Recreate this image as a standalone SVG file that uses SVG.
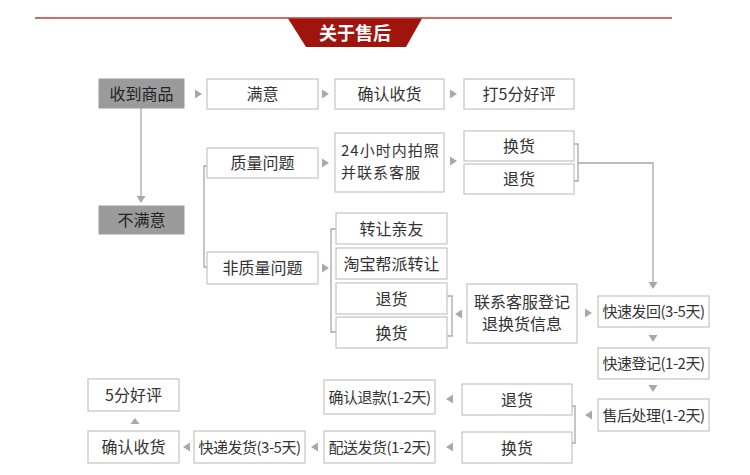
<svg xmlns="http://www.w3.org/2000/svg" width="750" height="475" viewBox="0 0 750 475">
<style>
.b{fill:#fff;stroke:#c4c4c4;stroke-width:1.2}
.g{fill:#9b9b9b;stroke:#9b9b9b;stroke-width:1}
.t{font-family:"Noto Sans CJK SC","Liberation Sans",sans-serif;font-size:16px;fill:#333;text-anchor:middle}
.s{font-size:15px;letter-spacing:-0.5px}
.m{font-size:15px}
.c{fill:none;stroke:#a8a8a8;stroke-width:1.3}
.a{fill:#a8a8a8}
</style>
<defs>
<path id="r" d="M0,-4.5 L7,0 L0,4.5 Z"/>
<path id="l" d="M0,-4.5 L-7,0 L0,4.5 Z"/>
<path id="d" d="M-4.5,0 L4.5,0 L0,7 Z"/>
<path id="u" d="M-4.5,0 L4.5,0 L0,-6 Z"/>
</defs>
<rect width="750" height="475" fill="#fff"/>
<g id="title">
<line x1="35" y1="18" x2="672" y2="18" stroke="#c23a33" stroke-width="1.5"/>
<polygon points="288,18.5 422,18.5 406,47 306,47" fill="#a0140e"/>
<text x="355" y="40" font-family="'Noto Sans CJK SC',sans-serif" font-size="18" font-weight="bold" fill="#fff" text-anchor="middle">关于售后</text>
</g>
<g id="connectors">
<path class="c" d="M141,108 V198"/>
<use href="#d" x="141" y="196" class="a"/>
<path class="c" d="M207,166 H204 V267 H207"/>
<path class="c" d="M336,229 H331 V332 H336"/>
<path class="c" d="M574,144 H578 V181 H574 M578,163 H653 V283"/>
<use href="#d" x="653" y="282" class="a"/>
<path class="c" d="M447,296 H452 V336 H447"/>
<path class="c" d="M572,406 H575 V443 H572"/>
<use href="#r" x="195" y="94" class="a"/>
<use href="#r" x="322" y="94" class="a"/>
<use href="#r" x="450" y="94" class="a"/>
<use href="#r" x="322" y="163" class="a"/>
<use href="#r" x="450" y="161" class="a"/>
<use href="#r" x="322" y="268" class="a"/>
<use href="#r" x="585" y="313" class="a"/>
<use href="#l" x="462" y="314" class="a"/>
<use href="#l" x="592" y="415" class="a"/>
<use href="#l" x="453" y="399" class="a"/>
<use href="#l" x="453" y="447" class="a"/>
<use href="#l" x="318" y="447" class="a"/>
<use href="#l" x="190" y="447" class="a"/>
<use href="#d" x="653" y="335" class="a"/>
<use href="#d" x="653" y="385" class="a"/>
<use href="#u" x="135" y="424" class="a"/>
</g>
<g id="n-receive"><rect class="g" x="99" y="79" width="85" height="29"/><text class="t" x="141.5" y="99.5" style="fill:#222">收到商品</text></g>
<g id="n-satisfied"><rect class="b" x="207" y="79" width="111" height="30"/><text class="t" x="262.5" y="100">满意</text></g>
<g id="n-confirm1"><rect class="b" x="335" y="79" width="109" height="30"/><text class="t" x="389.5" y="100">确认收货</text></g>
<g id="n-rate1"><rect class="b" x="464" y="79" width="110" height="30"/><text class="t" x="519" y="100">打5分好评</text></g>
<g id="n-unsatisfied"><rect class="g" x="99" y="206" width="85" height="28"/><text class="t" x="141.5" y="226" style="fill:#222">不满意</text></g>
<g id="n-quality"><rect class="b" x="207" y="148" width="111" height="30"/><text class="t" x="262.5" y="169">质量问题</text></g>
<g id="n-photo"><rect class="b" x="335" y="133" width="109" height="59"/><text class="t m" x="341" y="156" style="text-anchor:start;letter-spacing:1px">24小时内拍照</text><text class="t m" x="341" y="178" style="text-anchor:start;letter-spacing:1px">并联系客服</text></g>
<g id="n-exchange1"><rect class="b" x="464" y="131" width="110" height="30"/><text class="t" x="519" y="152">换货</text></g>
<g id="n-return1"><rect class="b" x="464" y="164" width="110" height="30"/><text class="t" x="519" y="185">退货</text></g>
<g id="n-nonquality"><rect class="b" x="207" y="252" width="111" height="32"/><text class="t" x="262.5" y="274">非质量问题</text></g>
<g id="n-transfer"><rect class="b" x="336" y="213" width="111" height="31"/><text class="t" x="391.5" y="234.5">转让亲友</text></g>
<g id="n-taobao"><rect class="b" x="336" y="248" width="111" height="31"/><text class="t" x="391.5" y="269.5">淘宝帮派转让</text></g>
<g id="n-return2"><rect class="b" x="336" y="283" width="111" height="31"/><text class="t" x="391.5" y="304.5">退货</text></g>
<g id="n-exchange2"><rect class="b" x="336" y="317" width="111" height="31"/><text class="t" x="391.5" y="338.5">换货</text></g>
<g id="n-contact"><rect class="b" x="467" y="284" width="110" height="59"/><text class="t" x="522" y="308">联系客服登记</text><text class="t" x="522" y="330">退换货信息</text></g>
<g id="n-sendback"><rect class="b" x="598" y="296" width="111" height="31"/><text class="t s" x="653.5" y="317">快速发回(3-5天)</text></g>
<g id="n-register"><rect class="b" x="598" y="348" width="111" height="31"/><text class="t s" x="653.5" y="369">快速登记(1-2天)</text></g>
<g id="n-process"><rect class="b" x="598" y="399" width="111" height="32"/><text class="t s" x="653.5" y="420.5">售后处理(1-2天)</text></g>
<g id="n-return3"><rect class="b" x="462" y="384" width="110" height="31"/><text class="t" x="517" y="405.5">退货</text></g>
<g id="n-exchange3"><rect class="b" x="462" y="432" width="110" height="31"/><text class="t" x="517" y="453.5">换货</text></g>
<g id="n-refund"><rect class="b" x="324" y="380" width="111" height="34"/><text class="t s" x="379.5" y="402.5">确认退款(1-2天)</text></g>
<g id="n-ship"><rect class="b" x="324" y="431" width="111" height="32"/><text class="t s" x="379.5" y="452.5">配送发货(1-2天)</text></g>
<g id="n-express"><rect class="b" x="194" y="431" width="111" height="32"/><text class="t s" x="249.5" y="452.5">快递发货(3-5天)</text></g>
<g id="n-confirm2"><rect class="b" x="88" y="431" width="91" height="32"/><text class="t" x="133.5" y="453">确认收货</text></g>
<g id="n-rate2"><rect class="b" x="88" y="379" width="91" height="32"/><text class="t" x="133.5" y="401">5分好评</text></g>
</svg>
